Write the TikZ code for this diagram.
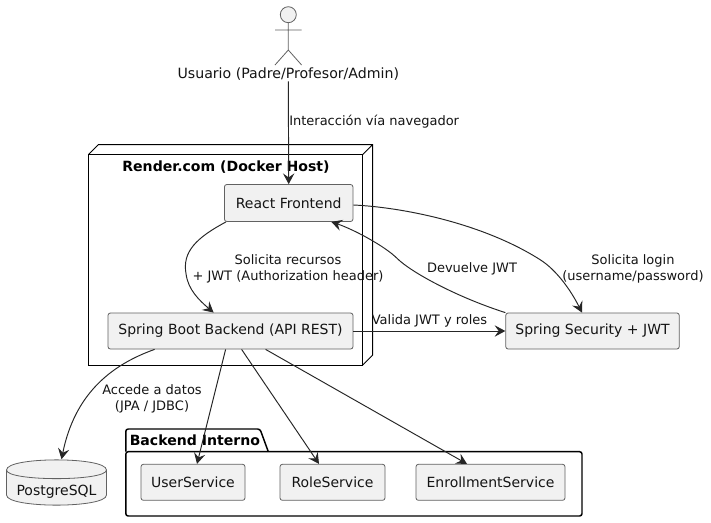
\documentclass[tikz,border=0pt]{standalone}
\usepackage{fontspec}
\setmainfont{DejaVu Sans}
\usetikzlibrary{arrows.meta,calc}
\tikzset{
  box/.style={draw=black!62,line width=0.6pt,fill=black!5.5,rounded corners=1.8pt,inner sep=0pt,font=\fontsize{10.5}{12}\selectfont,text=black!92},
  lbl/.style={inner sep=0pt,align=center,font=\fontsize{9.75}{12}\selectfont,text=black!92},
  ttl/.style={inner sep=0pt,font=\bfseries\fontsize{10.55}{12}\selectfont},
  conn/.style={draw=black!85,line width=0.72pt,-{Stealth[length=8pt,width=8.5pt,inset=3pt]}},
  frame/.style={draw=black,line width=0.75pt},
  pkgframe/.style={draw=black,line width=1.1pt,rounded corners=1.8pt},
  shapeline/.style={draw=black!62,line width=0.6pt}
}
\begin{document}
\begin{tikzpicture}[x=0.75pt,y=-0.75pt]
\useasboundingbox (0,0) rectangle (711,522);
\fill[white] (0,0) rectangle (711,522);
% node frame
\draw[frame] (88.5,154.5) rectangle (362.7,365);
\draw[frame] (88.5,154.5) -- (98.5,144.5) -- (372.7,144.5) -- (372.7,355) -- (362.7,365) (362.7,154.5) -- (372.7,144.5);
\node[ttl] (rendertitle) at (226,167) {Render.com (Docker Host)};
% package frame
\draw[pkgframe] (125.8,451.7) -- (125.8,429) -- (260,429) -- (268.3,451.7);
\draw[pkgframe] (125.8,451.7) rectangle (582,516);
\node[ttl,anchor=west] (pkgtitle) at (129.5,440) {Backend Interno};
% actor
\draw[shapeline,fill=black!5.5] (288.3,14.7) circle[radius=8];
\draw[shapeline] (288.3,22.7) -- (288.3,50) (275,30) -- (301.6,30) (275,65) -- (288.3,50) -- (301.6,65);
\node[inner sep=0pt,font=\fontsize{10.6}{12}\selectfont,text=black!92,minimum height=14*0.75pt] (user) at (288.3,74) {Usuario (Padre/Profesor/Admin)};
% boxes
\node[box,minimum width=128.5*0.75pt,minimum height=37*0.75pt] (react) at (288.7,203) {React Frontend};
\node[box,minimum width=245*0.75pt,minimum height=36*0.75pt] (spring) at (230.5,331) {Spring Boot Backend (API REST)};
\node[box,minimum width=173.5*0.75pt,minimum height=36*0.75pt] (security) at (592.5,331) {Spring Security + JWT};
\node[box,minimum width=104*0.75pt,minimum height=36*0.75pt] (usersvc) at (193,482.3) {UserService};
\node[box,minimum width=105*0.75pt,minimum height=36*0.75pt] (rolesvc) at (332.5,482.3) {RoleService};
\node[box,minimum width=149*0.75pt,minimum height=36*0.75pt] (enrollsvc) at (490.5,482.3) {EnrollmentService};
% database
\draw[shapeline,fill=black!5.5] (6.5,470) .. controls (6.5,456.5) and (106.5,456.5) .. (106.5,470) -- (106.5,495) .. controls (106.5,508.5) and (6.5,508.5) .. (6.5,495) -- cycle;
\draw[shapeline] (6.5,470) .. controls (6.5,481.5) and (106.5,481.5) .. (106.5,470);
\node[inner sep=0pt,font=\fontsize{10.5}{12}\selectfont,text=black!92,minimum width=75*0.75pt,minimum height=65*0.75pt] (pg) at (56.5,492) {PostgreSQL};
% connectors
\draw[conn] (user.south) -- (react.north);
\draw[conn] ($(react.south west)+(2,0)$) .. controls ($(react.south west)+(-28,16)$) and ($(react.south west)+(-42,30)$) .. ($(react.south west)+(-38,52)$) .. controls ($(react.south west)+(-36,68)$) and ($(spring.north west)+(92,-12)$) .. ($(spring.north west)+(106,0)$);
\draw[conn] ($(react.east)+(0,2)$) .. controls ($(react.east)+(45,4)$) and ($(security.north)+(-112.5,-91)$) .. ($(security.north)+(-52.5,-53)$) .. controls ($(security.north)+(-36.5,-43)$) and ($(security.north)+(-22,-23)$) .. ($(security.north)+(-10.5,0)$);
\draw[conn] (security.north west) .. controls ($(security.north west)+(-50,-16)$) and ($(security.north west)+(-95,-41)$) .. ($(security.north west)+(-108,-54)$) .. controls ($(security.north west)+(-121,-67)$) and ($(react.south east)+(-1,7)$) .. ($(react.south east)+(-22,0)$);
\draw[conn] (spring.east) -- (security.west);
\draw[conn] ($(spring.south west)+(47,0)$) .. controls ($(spring.south west)+(2,16)$) and ($(pg.north)+(18,-64)$) .. ($(pg.north)+(5,0)$);
\draw[conn] ($(spring.south west)+(118,0)$) -- ($(usersvc.north)+(4,0)$);
\draw[conn] ($(spring.south west)+(134,0)$) -- ($(rolesvc.north)+(-13.5,0)$);
\draw[conn] ($(spring.south west)+(158,0)$) -- ($(enrollsvc.north)+(-23.5,0)$);
% labels
\node[lbl,anchor=west] (l1) at (289,121.5) {Interacción vía navegador};
\node[lbl] (l2) at (288,269) {Solicita recursos\\+ JWT (Authorization header)};
\node[lbl] (l3) at (633,269) {Solicita login\\(username/password)};
\node[lbl] (l4) at (472,269) {Devuelve JWT};
\node[lbl] (l5) at (429.5,320.5) {Valida JWT y roles};
\node[lbl] (l6) at (152,399) {Accede a datos\\(JPA / JDBC)};
\end{tikzpicture}
\end{document}
